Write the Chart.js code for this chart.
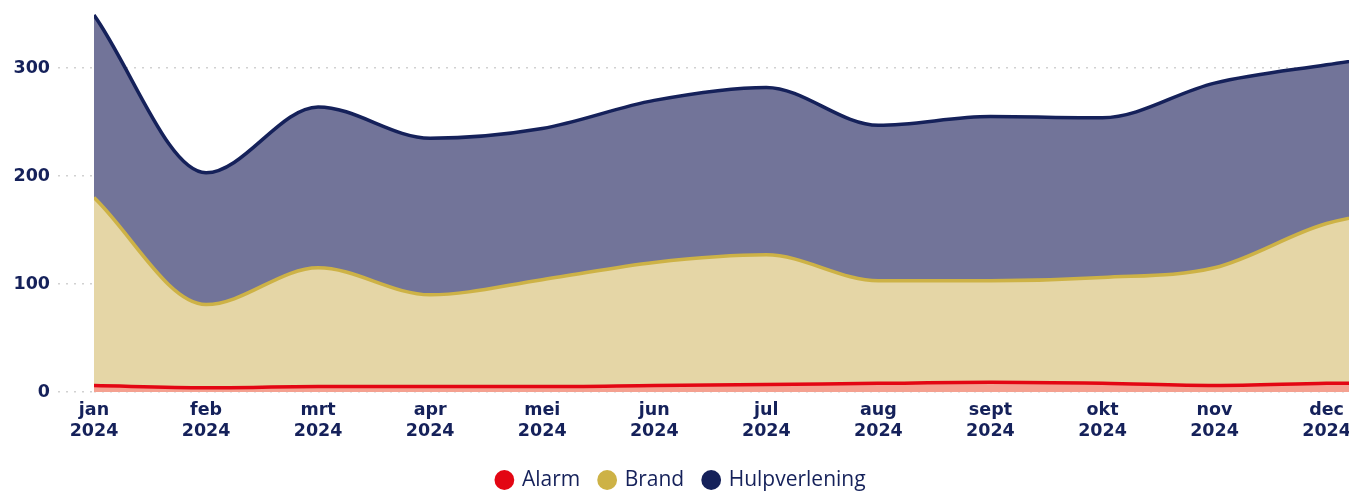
<!DOCTYPE html>
<html>
<head>
<meta charset="utf-8">
<script src="https://cdn.jsdelivr.net/npm/chart.js@4"></script>
<style>
    html, body { margin: 0; padding: 0; background: #fff; overflow: hidden; }
    #wrap { width: 1349px; height: 493px; position: relative; }
</style>
</head>
<body>
<div id="wrap"><canvas id="meldingen"></canvas></div>
<script>
// --- DATA (per maand, gestapeld) ---
const maanden = ['jan', 'feb', 'mrt', 'apr', 'mei', 'jun', 'jul', 'aug', 'sept', 'okt', 'nov', 'dec', 'jan'];
const jaren = ['2024', '2024', '2024', '2024', '2024', '2024', '2024', '2024', '2024', '2024', '2024', '2024', '2025'];
const alarm = [6, 4, 5, 5, 5, 6, 7, 8, 9, 8, 6, 8, 9];
const brand = [174, 77, 110, 85, 99, 114, 120, 95, 94, 98, 109, 148, 165];
const hulpverlening = [169, 122, 149, 145, 140, 150, 155, 144, 152, 148, 171, 147, 144];
const yTicks = [0, 100, 200, 300];

// zichtbaar bereik van de assen (laatste maand loopt net door tot de rand)
const X_MAX = 11.2;
const Y_MAX = 350;

const NAVY = '#15215a';
const tickFont = { family: '"DejaVu Sans", sans-serif', size: 17.5, weight: 'bold' };

function toPoints(arr) {
    return arr.map((v, i) => ({ x: i, y: v }));
}

const ctx = document.getElementById('meldingen');
const chart = new Chart(ctx, {
    type: 'line',
    data: {
        datasets: [
            {
                label: 'Alarm',
                data: toPoints(alarm),
                borderColor: '#e30613',
                backgroundColor: '#f4a190',
                fill: 'origin',
                borderWidth: 3.5
            },
            {
                label: 'Brand',
                data: toPoints(brand),
                borderColor: '#cdb246',
                backgroundColor: '#e5d6a6',
                fill: '-1',
                borderWidth: 3.5
            },
            {
                label: 'Hulpverlening',
                data: toPoints(hulpverlening),
                borderColor: NAVY,
                backgroundColor: '#727499',
                fill: '-1',
                borderWidth: 3.5
            }
        ]
    },
    options: {
        responsive: true,
        maintainAspectRatio: false,
        animation: false,
        layout: { padding: { left: 14, top: 14, right: 0, bottom: -7.5 } },
        elements: {
            point: { radius: 0, hoverRadius: 0 },
            line: { cubicInterpolationMode: 'monotone' }
        },
        plugins: {
            tooltip: { enabled: false },
            legend: {
                position: 'bottom',
                labels: {
                    usePointStyle: true,
                    pointStyle: 'circle',
                    boxHeight: 14,
                    boxWidth: 14,
                    padding: 20,
                    color: NAVY,
                    font: { family: '"Open Sans", sans-serif', size: 21 },
                    generateLabels: (chart) => {
                        const items = Chart.defaults.plugins.legend.labels.generateLabels(chart);
                        items.forEach(it => {
                            it.fillStyle = it.strokeStyle;
                            it.lineWidth = 0;
                        });
                        return items;
                    }
                }
            }
        },
        scales: {
            x: {
                type: 'linear',
                min: 0,
                max: X_MAX,
                grid: { display: false, drawTicks: false },
                border: { display: false },
                ticks: {
                    stepSize: 1,
                    autoSkip: false,
                    maxRotation: 0,
                    includeBounds: false,
                    padding: 8,
                    color: NAVY,
                    font: tickFont,
                    callback: (v) => Number.isInteger(v) && v < maanden.length ? [maanden[v], jaren[v]] : ''
                },
                afterFit: (scale) => {
                    scale.height = 57.5;
                    scale.paddingLeft = 0;
                    scale.paddingRight = 0;
                }
            },
            y: {
                stacked: true,
                min: 0,
                max: Y_MAX,
                z: 1,
                border: { display: false, dash: [2, 6] },
                grid: {
                    color: 'rgba(0,0,0,0.18)',
                    borderDash: [2, 6],
                    tickBorderDash: [2, 6],
                    tickColor: 'rgba(0,0,0,0.18)',
                    tickLength: 36,
                    lineWidth: 1.5
                },
                ticks: {
                    stepSize: 100,
                    includeBounds: false,
                    padding: 8,
                    color: NAVY,
                    font: tickFont,
                    callback: (v) => yTicks.includes(v) ? v : ''
                },
                afterFit: (scale) => {
                    scale.width = 80;
                    scale.paddingTop = 0;
                    scale.paddingBottom = 0;
                }
            }
        }
    }
});
</script>
</body>
</html>
